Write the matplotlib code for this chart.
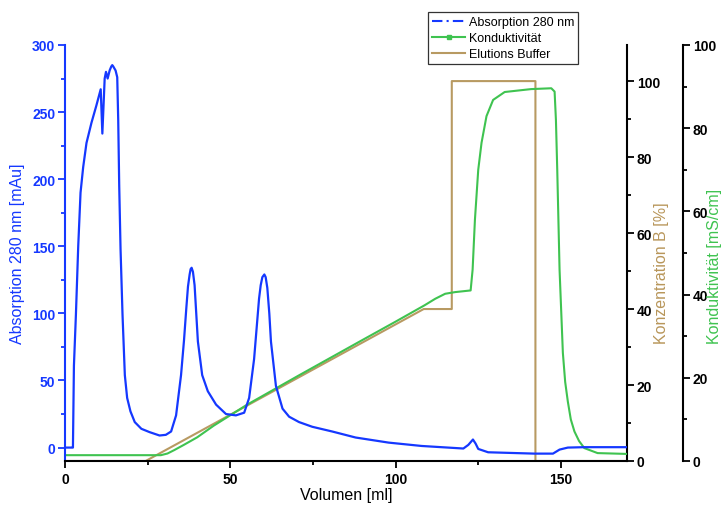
import matplotlib
matplotlib.use("Agg")
import matplotlib.pyplot as plt
from matplotlib.lines import Line2D
from matplotlib.ticker import MultipleLocator

plt.rcParams['font.family'] = ['Liberation Sans', 'DejaVu Sans']

# Absorption 280 nm [mAu] over volume [ml]
abs_vol = [0, 2.2, 2.4, 2.7, 3.3, 4.0, 4.7, 5.5, 6.5, 8.0, 9.5, 10.8, 11.3, 12.0, 12.4,
           12.9, 13.5, 14.0, 14.3, 14.6, 15.3, 15.8, 16.1, 16.4, 16.8, 17.4, 18.1, 18.8, 19.8,
           21.1, 23.1, 25.6, 28.6, 30.5, 32.1, 33.6, 35.1, 36.0, 36.7, 37.2, 37.7, 38.0, 38.3,
           38.7, 39.2, 39.7, 40.2, 41.5, 43.2, 45.7, 48.7, 51.7, 54.2, 55.7, 57.2, 58.0, 58.7,
           59.2, 59.7, 60.3, 60.7, 61.2, 61.8, 62.3, 63.8, 65.8, 67.8, 70.8, 74.8, 80.8, 87.9,
           97.9, 107.9, 120.5, 122.0, 123.4, 124.2, 125.0, 128.0, 142.0, 147.6, 149.6, 152.1,
           157.1, 170.0]
abs_mau = [0, 0, 0, 61, 99, 150, 190, 209, 227, 242, 255, 267, 234, 275, 280,
           275, 281, 284, 285, 284, 281, 276, 244, 195, 148, 99, 54, 37, 27,
           19, 14, 11.5, 9, 9.5, 12, 24, 54, 80, 104, 120, 129, 133, 134,
           131, 121, 100, 79, 54, 42, 32, 25, 24, 26, 37, 66, 90, 111,
           121, 127, 129, 127, 119, 100, 79, 46, 29, 23, 19, 15.5, 12, 7.5,
           3.7, 1.2, -0.7, 2, 6, 3, -1, -3.5, -4.5, -4.5, -1.5, 0,
           0.3, 0.3]

# Konzentration B [%] (Elutions Buffer)
buf_vol = [0, 24.4, 108.5, 117.0, 117.0, 142.3, 142.3, 170.0]
buf_pct = [0, 0, 40, 40, 100, 100, 0, 0]

# Konduktivitaet [mS/cm]
cond_vol = [0, 29, 31, 33, 36, 40, 45, 55, 70.8, 90, 100, 108.7, 112, 115, 118, 122.7,
            123.3, 124, 125, 126, 127.5, 129.5, 133, 141, 147.1, 148.1, 148.5, 148.9, 149.6,
            150.6, 151.3, 152.1, 153.0, 154.1, 155.5, 157.1, 161.1, 170]
cond_ms = [1.4, 1.4, 1.8, 2.6, 3.9, 5.7, 8.5, 13.5, 20.6, 29.1, 33.5, 37.4, 39.0, 40.2, 40.6, 41.0,
           46, 58, 70, 76.5, 82.9, 86.8, 88.7, 89.4, 89.6, 88.8, 82, 70, 46,
           26, 19, 14.3, 10, 7.1, 4.8, 3.1, 1.9, 1.7]

blue = '#1538ff'
green = '#3fc350'
brown = '#b89a62'
label_brown = '#b8965a'

fig = plt.figure(figsize=(7.23, 5.10), dpi=100)
ax = fig.add_axes([65 / 723, 48 / 510, 562 / 723, 416 / 510])
ax_b = ax.twinx()
ax_c = ax.twinx()

ax.plot(abs_vol, abs_mau, color=blue, linewidth=1.6, zorder=3)
ax_b.plot(buf_vol, buf_pct, color=brown, linewidth=1.5)
ax_c.plot(cond_vol, cond_ms, color=green, linewidth=1.5)

# keep blue trace on top of the twin axes
ax.set_zorder(3)
ax.patch.set_visible(False)

ax.set_xlim(0, 170)
ax.set_ylim(-10, 300)
ax_b.set_ylim(0, 109.5)
ax_c.set_ylim(0, 100)

ax_c.spines['right'].set_position(('axes', 1 + 56 / 562))

for a in (ax, ax_b, ax_c):
    a.spines['top'].set_visible(False)
    for s in a.spines.values():
        s.set_linewidth(1.5)
ax.spines['right'].set_visible(False)
ax_b.spines['left'].set_visible(False)
ax_c.spines['left'].set_visible(False)
ax_b.spines['bottom'].set_visible(False)
ax_c.spines['bottom'].set_visible(False)
ax.spines['left'].set_color(blue)

ax.xaxis.set_major_locator(MultipleLocator(50))
ax.xaxis.set_minor_locator(MultipleLocator(25))
ax.yaxis.set_major_locator(MultipleLocator(50))
ax.yaxis.set_minor_locator(MultipleLocator(25))
for a in (ax_b, ax_c):
    a.yaxis.set_major_locator(MultipleLocator(20))
    a.yaxis.set_minor_locator(MultipleLocator(10))

ax.tick_params(axis='x', which='major', direction='out', length=5, width=1.3, labelsize=10, pad=3)
ax.tick_params(axis='x', which='minor', direction='out', length=3, width=1.3)
ax.tick_params(axis='y', which='major', direction='out', length=5, width=1.3, labelsize=10,
               colors=blue, pad=2)
ax.tick_params(axis='y', which='minor', direction='out', length=3, width=1.3, colors=blue)
for a in (ax_b, ax_c):
    a.tick_params(axis='y', which='major', direction='out', length=5, width=1.3, labelsize=10, pad=2)
    a.tick_params(axis='y', which='minor', direction='out', length=3, width=1.3)

for a in (ax, ax_b, ax_c):
    for lab in a.get_xticklabels() + a.get_yticklabels():
        lab.set_fontweight('bold')

ax.set_xlabel('Volumen [ml]', fontsize=11.5)
ax.xaxis.set_label_coords(0.5, -0.062)
ax.set_ylabel('Absorption 280 nm [mAu]', fontsize=11.5, color=blue)
ax.yaxis.set_label_coords(-0.072, 0.5)

ax_b.set_ylabel('Konzentration B [%]', fontsize=11.5, color=label_brown)
ax_b.yaxis.set_label_coords(1.048, 0.283)
ax_b.yaxis.label.set_horizontalalignment('left')
ax_c.set_ylabel('Konduktivität [mS/cm]', fontsize=11.5, color=green)
ax_c.yaxis.set_label_coords(1.143, 0.283)
ax_c.yaxis.label.set_horizontalalignment('left')

handles = [
    Line2D([], [], color=blue, linewidth=1.5, linestyle=(0, (5, 2, 1, 2))),
    Line2D([], [], color=green, linewidth=1.5, marker='s', markersize=2.5),
    Line2D([], [], color=brown, linewidth=1.5),
]
leg = fig.legend(handles, ['Absorption 280 nm', 'Konduktivität', 'Elutions Buffer'],
                 loc='upper left', bbox_to_anchor=(428 / 723, 1 - 13 / 510),
                 fontsize=9, frameon=True, fancybox=False, edgecolor='black',
                 handlelength=2.6, handletextpad=0.3, borderpad=0.35, labelspacing=0.3,
                 borderaxespad=0, numpoints=1)
leg.get_frame().set_linewidth(0.9)

fig.savefig('out.png', dpi=100)
